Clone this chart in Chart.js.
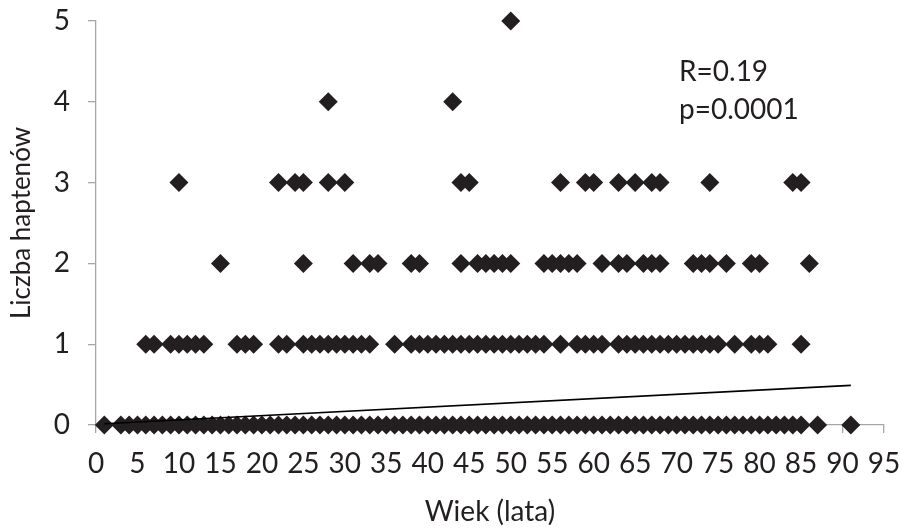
<!DOCTYPE html>
<html>
<head>
<meta charset="utf-8">
<script src="https://cdn.jsdelivr.net/npm/chart.js@4.4.1/dist/chart.umd.min.js"></script>
<style>
  html, body { margin: 0; padding: 0; background: #fff; }
  #wrap { width: 903px; height: 532px; }
</style>
</head>
<body>
<div id="wrap"><canvas id="c" width="903" height="532"></canvas></div>
<script>
// Ages (years) of patients, grouped by the number of haptens found
const agesHapten0 = [1, 3, 4, 5, 6, 7, 8, 9, 10, 11, 12, 13, 14, 15, 16, 17, 18, 19, 20,
  21, 22, 23, 24, 25, 26, 27, 28, 29, 30, 31, 32, 33, 34, 35, 36, 37, 38, 39, 40,
  41, 42, 43, 44, 45, 46, 47, 48, 49, 50, 51, 52, 53, 54, 55, 56, 57, 58, 59, 60,
  61, 62, 63, 64, 65, 66, 67, 68, 69, 70, 71, 72, 73, 74, 75, 76, 77, 78, 79, 80,
  81, 82, 83, 84, 85, 87, 91];
const agesHapten1 = [6, 7, 9, 10, 11, 12, 13, 17, 18, 19, 22, 23, 25, 26, 27, 28, 29, 30,
  31, 32, 33, 36, 38, 39, 40, 41, 42, 43, 44, 45, 46, 47, 48, 49, 50, 51, 52, 53, 54,
  56, 58, 59, 60, 61, 63, 64, 65, 66, 67, 68, 69, 70, 71, 72, 73, 74, 75, 77, 79, 80,
  81, 85];
const agesHapten2 = [15, 25, 31, 33, 34, 38, 39, 44, 46, 47, 48, 49, 50, 54, 55, 56, 57,
  58, 61, 63, 64, 66, 67, 68, 72, 73, 74, 76, 79, 80, 86];
const agesHapten3 = [10, 22, 24, 25, 28, 30, 44, 45, 56, 59, 60, 63, 65, 67, 68, 74, 84, 85];
const agesHapten4 = [28, 43];
const agesHapten5 = [50];

// Linear trend line end points (age, haptens)
const trendAges = [1, 91];
const trendValues = [0.015, 0.49];

// Statistics shown on the chart
const statLines = ['R=0.19', 'p=0.0001'];

const xTicks = { min: 0, max: 95, step: 5 };
const yTicks = { min: 0, max: 5, step: 1 };

const groups = [agesHapten0, agesHapten1, agesHapten2, agesHapten3, agesHapten4, agesHapten5];
const points = [];
groups.forEach((ages, count) => ages.forEach(a => points.push({ x: a, y: count })));
const trend = trendAges.map((a, i) => ({ x: a, y: trendValues[i] }));

const FONT = 'Lato, "Open Sans", sans-serif';
const INK = '#231f20';
const AXIS = '#a6a6a6';

const statsText = {
  id: 'statsText',
  afterDatasetsDraw(chart) {
    const ctx = chart.ctx;
    ctx.save();
    ctx.fillStyle = INK;
    ctx.font = '28px ' + FONT;
    ctx.textAlign = 'left';
    ctx.textBaseline = 'middle';
    statLines.forEach((t, i) => ctx.fillText(t, 679, 72 + i * 38));
    ctx.restore();
  }
};

// keep the plot box fixed: no extra room reserved for overhanging tick labels
function noOverhang(s) {
  s.paddingTop = 0; s.paddingBottom = 0; s.paddingLeft = 0; s.paddingRight = 0;
}

new Chart(document.getElementById('c'), {
  type: 'scatter',
  data: {
    datasets: [
      {
        type: 'line',
        data: trend,
        borderColor: '#000',
        borderWidth: 1.6,
        pointRadius: 0,
        fill: false,
        clip: false,
        order: 0
      },
      {
        data: points,
        pointStyle: 'rectRot',
        pointRadius: 9.5,
        pointHoverRadius: 9.5,
        backgroundColor: INK,
        borderColor: INK,
        borderWidth: 0,
        clip: false,
        order: 1
      }
    ]
  },
  options: {
    responsive: false,
    animation: false,
    events: [],
    layout: { padding: { top: 21, right: 19, left: 0, bottom: 0 } },
    plugins: { legend: { display: false }, tooltip: { enabled: false } },
    scales: {
      x: {
        type: 'linear',
        min: xTicks.min,
        max: xTicks.max,
        afterFit(s) { s.height = 107; noOverhang(s); },
        border: { color: AXIS, width: 1.3 },
        grid: { drawOnChartArea: false, drawTicks: true, tickLength: 8, color: AXIS, lineWidth: 1.3 },
        ticks: { stepSize: xTicks.step, color: INK, font: { family: FONT, size: 28 }, padding: 14, maxRotation: 0, autoSkip: false },
        title: { display: true, text: 'Wiek (lata)', color: INK, font: { family: FONT, size: 28 }, padding: { top: 0, bottom: 3 } }
      },
      y: {
        type: 'linear',
        min: yTicks.min,
        max: yTicks.max,
        afterFit(s) { s.width = 96; noOverhang(s); },
        border: { color: AXIS, width: 1.3 },
        grid: { drawOnChartArea: false, drawTicks: true, tickLength: 8, color: AXIS, lineWidth: 1.3 },
        ticks: { stepSize: yTicks.step, color: INK, font: { family: FONT, size: 28 }, padding: 18 },
        title: { display: true, text: 'Liczba haptenów', color: INK, font: { family: FONT, size: 26 }, padding: { top: 6, bottom: 0 } }
      }
    }
  },
  plugins: [statsText]
});
</script>
</body>
</html>
